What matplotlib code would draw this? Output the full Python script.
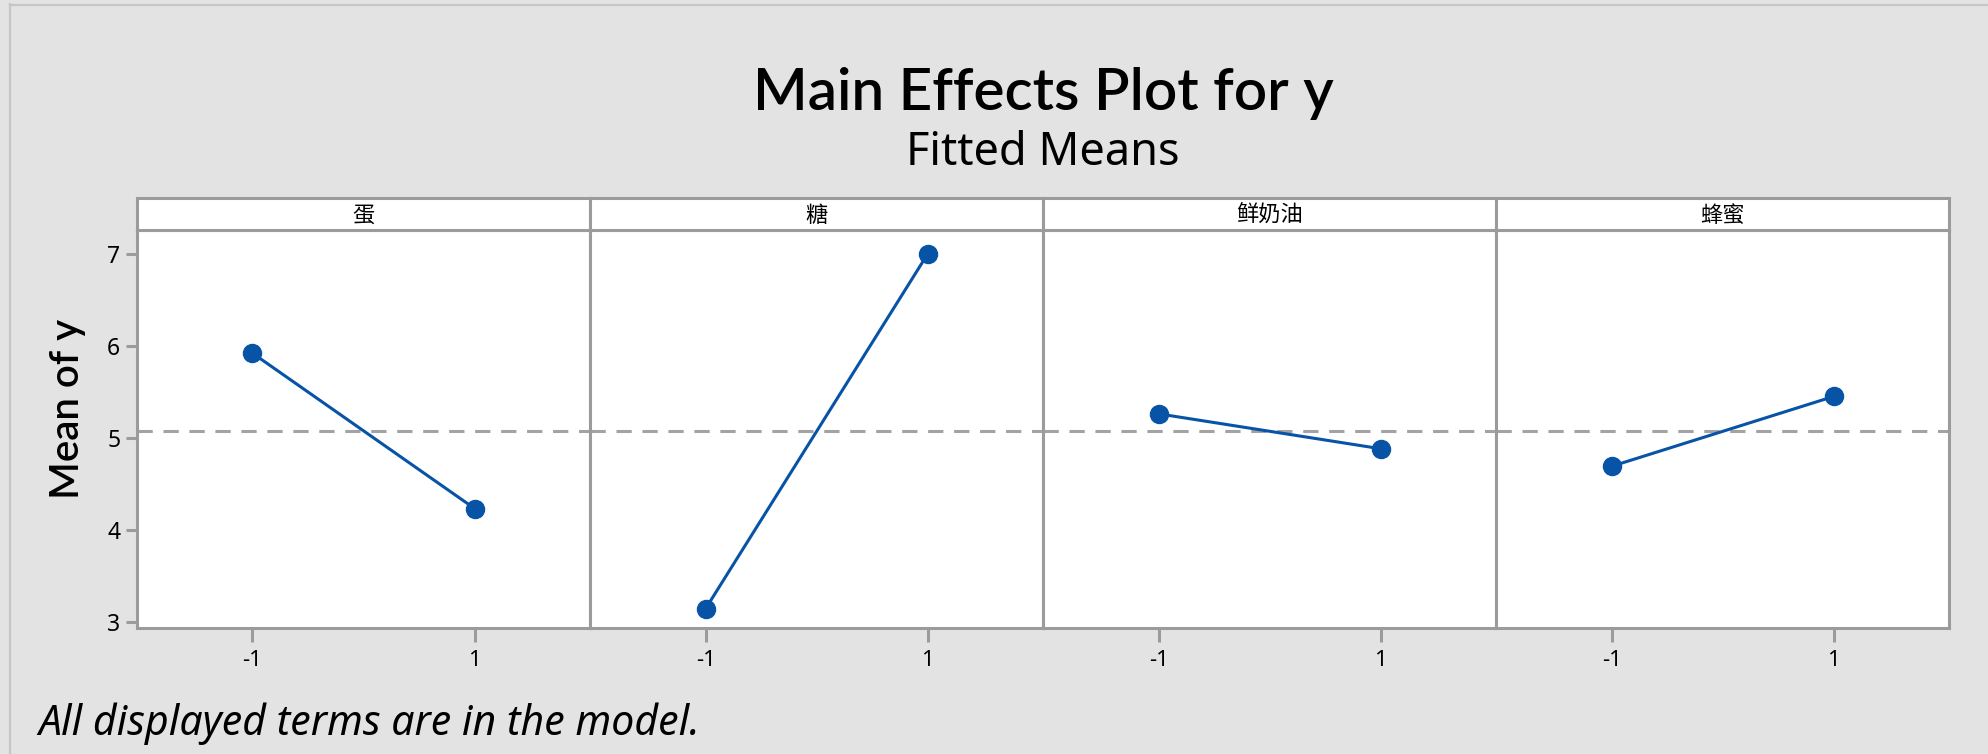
import matplotlib
matplotlib.use("Agg")
import matplotlib.pyplot as plt
from matplotlib.lines import Line2D

plt.rcParams['font.family'] = ['Noto Sans', 'Noto Sans CJK SC', 'DejaVu Sans']

factors = ['蛋', '糖', '鲜奶油', '蜂蜜']
levels = [-1, 1]
level_labels = ['-1', '1']
egg = [5.92, 4.23]
sugar = [3.14, 7.00]
cream = [5.26, 4.88]
honey = [4.69, 5.45]
grand_mean = 5.07
y_ticks = [3, 4, 5, 6, 7]

series = [egg, sugar, cream, honey]

bg = '#e3e3e3'
frame = '#9b9b9b'
blue = '#0753a6'

fig = plt.figure(figsize=(19.88, 7.54), dpi=100, facecolor=bg)

# figure outline (top and left only)
fig.add_artist(Line2D([10/1988, 10/1988], [0, 1 - 4/754], transform=fig.transFigure, color='#c6c6c6', lw=1.6))
fig.add_artist(Line2D([10/1988, 1], [1 - 5/754, 1 - 5/754], transform=fig.transFigure, color='#c6c6c6', lw=1.6))

x0 = 137 / 1988
w = 453.1 / 1988
bottom = 1 - 628 / 754
top = 1 - 230 / 754
strip_h = 32 / 754

for i, (name, vals) in enumerate(zip(factors, series)):
    ax = fig.add_axes([x0 + i * w, bottom, w, top - bottom])
    ax.set_facecolor('white')
    ax.axhline(grand_mean, color='#a3a3a3', lw=2.2, linestyle=(0, (5, 3.5)), zorder=1)
    ax.plot(levels, vals, color=blue, lw=2.2, marker='o', markersize=13, zorder=3)
    ax.set_xlim(-2.04, 2.04)
    ax.set_ylim(2.93, 7.26)
    ax.set_xticks(levels)
    ax.set_xticklabels(level_labels, fontsize=16)
    ax.tick_params(axis='x', length=10, width=2.2, color=frame, pad=6)
    if i == 0:
        ax.set_yticks(y_ticks)
        ax.set_yticklabels([str(t) for t in y_ticks], fontsize=16.5)
        ax.tick_params(axis='y', length=8, width=2.2, color=frame, pad=4)
    else:
        ax.set_yticks([])
    for s in ax.spines.values():
        s.set_color(frame)
        s.set_linewidth(2.2)

    sax = fig.add_axes([x0 + i * w, top, w, strip_h])
    sax.set_facecolor('white')
    sax.set_xticks([])
    sax.set_yticks([])
    for s in sax.spines.values():
        s.set_color(frame)
        s.set_linewidth(2.2)
    sax.text(0.5, 0.42, name, ha='center', va='center', fontsize=16, transform=sax.transAxes)

cx = (137 + 1949.5) / 2 / 1988
fig.text(cx, 1 - 110 / 754, 'Main Effects Plot for y', ha='center', va='baseline',
         fontsize=42, fontweight='semibold', family=['Lato', 'Noto Sans'])
fig.text(cx, 1 - 165 / 754, 'Fitted Means', ha='center', va='baseline',
         fontsize=32.5, family=['Noto Sans'])
fig.text(68 / 1988, 1 - 409 / 754, 'Mean of y', rotation=90, ha='center', va='center',
         fontsize=29, fontweight='semibold', family=['Lato', 'Noto Sans'])
fig.text(38 / 1988, 1 - 735 / 754, 'All displayed terms are in the model.', ha='left', va='baseline',
         fontsize=29.5, style='italic')

fig.savefig('out.png', dpi=100, facecolor=bg)
